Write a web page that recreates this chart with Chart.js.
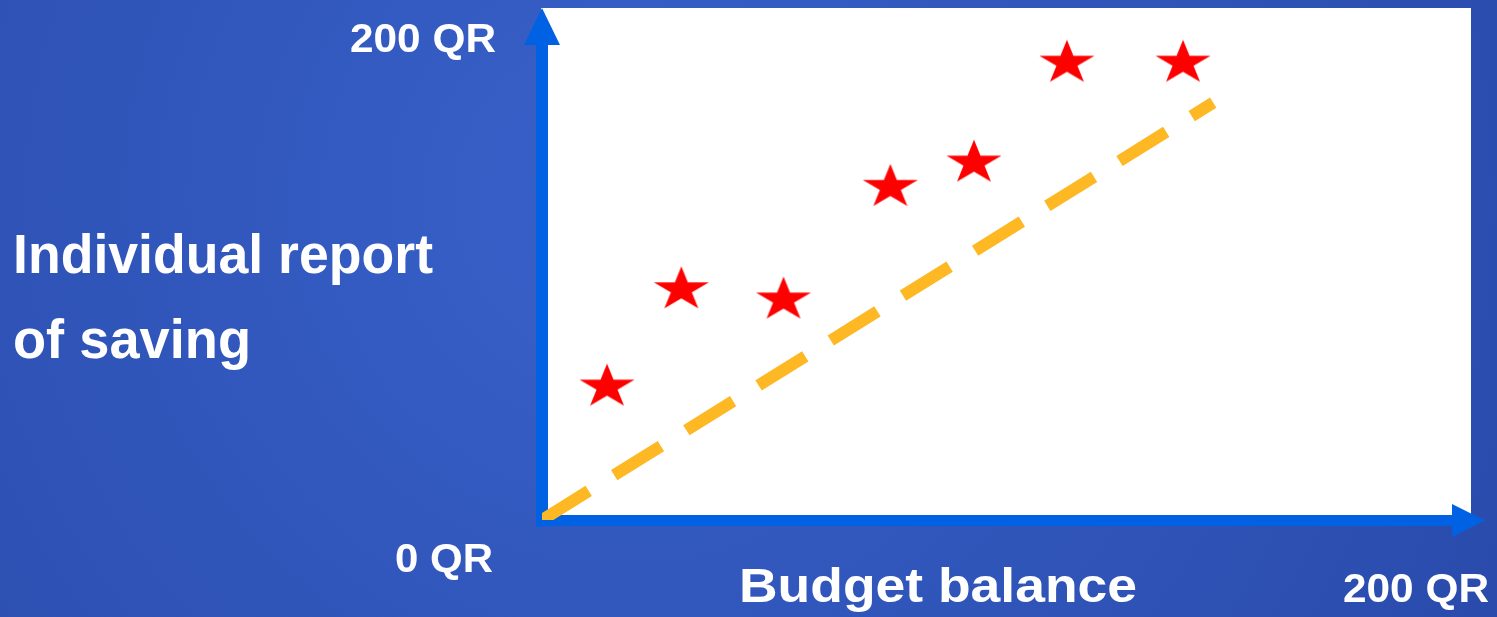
<!DOCTYPE html>
<html>
<head>
<meta charset="utf-8">
<title>Budget balance and individual report of saving</title>
<script src="https://cdn.jsdelivr.net/npm/chart.js@4.4.0/dist/chart.umd.min.js"></script>
<style>
  html, body { margin: 0; padding: 0; background: #2d50b4; }
  canvas { display: block; }
</style>
</head>
<body>
<canvas id="chart" width="1497" height="617"></canvas>
<script>
// budget balance (x) against the saving people reported (y), in QR
const budgetBalance = [14, 30, 52, 75, 93, 113, 138];
const reportedSaving = [52, 90, 86, 130, 139.5, 178.5, 178.5];

// dashed guide from the origin
const guideX = [0, 144.5];
const guideY = [0, 163];

const axisMin = 0;
const axisMax = 200;
const tickLabels = ["0 QR", "200 QR"];
const xTitle = "Budget balance";
const yTitle = ["Individual report", "of saving"];

const AXIS_BLUE = "#0062e3";
const FONT = '"Liberation Sans", Arial, sans-serif';

// filled five-point star, a little wider than tall
function makeStar(rx, ry, color) {
  const c = document.createElement("canvas");
  c.width = Math.ceil(rx * 2) + 4;
  c.height = Math.ceil(ry * 2) + 4;
  const g = c.getContext("2d");
  const cx = c.width / 2, cy = c.height / 2;
  g.beginPath();
  for (let i = 0; i < 10; i++) {
    const r = i % 2 === 0 ? 1 : 0.382;
    const a = -Math.PI / 2 + i * Math.PI / 5;
    g.lineTo(cx + Math.cos(a) * rx * r, cy + Math.sin(a) * ry * r);
  }
  g.closePath();
  g.fillStyle = color;
  g.fill();
  return c;
}

// bold text squeezed or stretched to a given width
function fitText(ctx, text, x, y, size, width) {
  ctx.font = `bold ${size}px ${FONT}`;
  const w = ctx.measureText(text).width;
  ctx.save();
  ctx.translate(x, y);
  ctx.scale(width / w, 1);
  ctx.fillText(text, 0, 0);
  ctx.restore();
}

const slide = {
  id: "slide",
  beforeDraw(chart) {
    const { ctx, width, height, chartArea: a } = chart;
    ctx.save();
    const bg = ctx.createRadialGradient(620, 200, 40, 620, 200, 1100);
    bg.addColorStop(0, "#3760c8");
    bg.addColorStop(1, "#2848a8");
    ctx.fillStyle = bg;
    ctx.fillRect(0, 0, width, height);
    ctx.fillStyle = "#ffffff";
    ctx.fillRect(a.left - 1, a.top, a.right - a.left + 1, a.bottom - a.top - 3);
    ctx.restore();
  },
  beforeDatasetsDraw(chart) {
    const { ctx, chartArea: a } = chart;
    const ox = a.left, oy = a.bottom + 0.5;
    ctx.save();
    ctx.fillStyle = AXIS_BLUE;
    // y axis with arrow head
    ctx.fillRect(ox - 6, a.top + 37, 12, oy + 6 - (a.top + 37));
    ctx.beginPath();
    ctx.moveTo(ox - 18, a.top + 37);
    ctx.lineTo(ox + 18, a.top + 37);
    ctx.lineTo(ox, a.top);
    ctx.closePath();
    ctx.fill();
    // x axis with arrow head
    ctx.fillRect(ox - 6, oy - 5.5, a.right - 19 - (ox - 6), 11);
    ctx.beginPath();
    ctx.moveTo(a.right - 19, oy - 16.5);
    ctx.lineTo(a.right - 19, oy + 16.5);
    ctx.lineTo(a.right + 14, oy);
    ctx.closePath();
    ctx.fill();
    ctx.restore();
  },
  afterDraw(chart) {
    const { ctx } = chart;
    ctx.save();
    ctx.fillStyle = "#ffffff";
    ctx.textBaseline = "alphabetic";
    ctx.textAlign = "left";
    fitText(ctx, yTitle[0], 13, 273, 56, 420);
    fitText(ctx, yTitle[1], 13, 358, 56, 238);
    fitText(ctx, tickLabels[1], 350, 52, 40, 146);
    fitText(ctx, tickLabels[0], 395, 572, 40, 98);
    fitText(ctx, tickLabels[1], 1343, 602, 40, 146);
    fitText(ctx, xTitle, 739, 602, 48, 398);
    ctx.restore();
  }
};

const star = makeStar(28.9, 23.2, "#ff0000");

new Chart(document.getElementById("chart"), {
  type: "scatter",
  data: {
    datasets: [
      {
        data: guideX.map((x, i) => ({ x, y: guideY[i] })),
        showLine: true,
        borderColor: "#fdb823",
        borderWidth: 12,
        borderDash: [55, 30],
        borderCapStyle: "butt",
        pointRadius: 0,
        order: 2
      },
      {
        data: budgetBalance.map((x, i) => ({ x, y: reportedSaving[i] })),
        pointStyle: star,
        pointRadius: 20,
        order: 1
      }
    ]
  },
  options: {
    responsive: false,
    animation: false,
    layout: { autoPadding: false, padding: { left: 542, right: 26, top: 8, bottom: 97 } },
    scales: {
      x: { type: "linear", min: axisMin, max: axisMax, display: false },
      y: { type: "linear", min: axisMin, max: axisMax, display: false }
    },
    plugins: {
      legend: { display: false },
      tooltip: { enabled: false }
    }
  },
  plugins: [slide]
});
</script>
</body>
</html>
